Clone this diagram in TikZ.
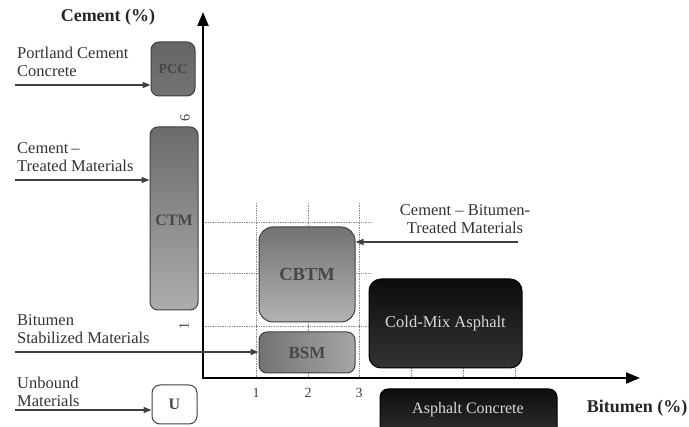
\documentclass[tikz,border=0pt]{standalone}
\usepackage{fontspec}
\setmainfont{Liberation Serif}
\usetikzlibrary{arrows.meta}
\begin{document}
\begin{tikzpicture}[x=1pt,y=-1pt,
  lbl/.style={font=\fontsize{16.5}{18}\selectfont,text=black!80,align=left,anchor=south west,inner sep=0pt},
  box/.style={draw=black!75,line width=1pt,rounded corners=8pt,font=\fontsize{16}{17}\selectfont\bfseries,text=black!72,minimum width=0pt,inner sep=0pt},
  darkbox/.style={draw=black,line width=1pt,rounded corners=12pt,font=\fontsize{16.5}{17}\selectfont,text=white!85!black,inner sep=0pt,top color=black!95,bottom color=black!80},
  axis/.style={line width=2.2pt,-{Triangle[length=14pt,width=11pt]}},
  ptr/.style={line width=1.5pt,black!75,-{Triangle[length=8pt,width=6pt]}},
  grid/.style={densely dotted,black!45,line width=0.7pt},
  ax/.style={font=\fontsize{18}{19}\selectfont\bfseries,text=black!85},
  tick/.style={font=\fontsize{14}{15}\selectfont,text=black!75}
]
\useasboundingbox (0,0) rectangle (689,427);
% grid
\draw[grid] (256,203) -- (256,378);
\draw[grid] (308,203) -- (308,378);
\draw[grid] (359,203) -- (359,378);
\draw[grid] (203,222) -- (370,222);
\draw[grid] (203,273) -- (370,273);
\draw[grid] (203,326) -- (370,326);
\draw[grid] (411,368) -- (411,378);
\draw[grid] (463,368) -- (463,378);
\draw[grid] (515,368) -- (515,378);
% boxes
\node[box,minimum width=44pt,minimum height=54pt,top color=black!60,bottom color=black!55,font=\fontsize{14}{15}\selectfont\bfseries] (pcc) at (173,69) {PCC};
\node[box,minimum width=48pt,minimum height=183pt,top color=black!58,bottom color=black!32] (ctm) at (174,218.5) {};
\node[font=\fontsize{16}{17}\selectfont\bfseries,text=black!72] (ctmt) at (174,220) {CTM};
\node[box,minimum width=45pt,minimum height=39pt,fill=white] (u) at (174.5,404.5) {U};
\node[box,minimum width=96pt,minimum height=95pt,rounded corners=14pt,top color=black!55,bottom color=black!30,font=\fontsize{18.5}{19}\selectfont\bfseries] (cbtm) at (307,274.5) {CBTM};
\node[box,minimum width=96pt,minimum height=41pt,left color=black!55,right color=black!35,font=\fontsize{17}{18}\selectfont\bfseries] (bsm) at (307,352.5) {BSM};
\node[darkbox,minimum width=153pt,minimum height=89pt] (cma) at (445.5,323.5) {Cold-Mix Asphalt};
\node[darkbox,minimum width=177pt,minimum height=50pt,rounded corners=8pt] (ac) at (468.5,414) {};
\node[font=\fontsize{16}{17}\selectfont,text=white!85!black] (act) at (468,410) {Asphalt Concrete};
% axes
\coordinate (o) at (203,378);
\coordinate (ytip) at (203,12);
\coordinate (xtip) at (640,378);
\draw[axis,line cap=rect] (o) -- (ytip);
\draw[axis] (o) -- (xtip);
\node[ax] (ylab) at (108,17) {Cement (\%)};
\node[ax] (xlab) at (637,408) {Bitumen (\%)};
% tick labels
\node[tick] (t1) at (256,393) {1};
\node[tick] (t2) at (308,393) {2};
\node[tick] (t3) at (359,393) {3};
\node[tick,rotate=90] (t6) at (185,118) {6};
\node[tick,rotate=90] (t1y) at (184,326) {1};
% labels and pointers
\node[lbl] (lpcc) at (17,77) {Portland Cement\\Concrete};
\coordinate (spcc) at (15,85);
\draw[ptr] (spcc) -- (pcc.west |- spcc);
\node[lbl] (lctm) at (17,172) {Cement\,--\\Treated Materials};
\coordinate (sctm) at (15,180);
\draw[ptr] (sctm) -- (ctm.west |- sctm);
\node[lbl] (lbsm) at (17,344) {Bitumen\\Stabilized Materials};
\coordinate (sbsm) at (15,352);
\draw[ptr] (sbsm) -- (bsm.west |- sbsm);
\node[lbl] (lu) at (17,407) {Unbound\\Materials};
\coordinate (su) at (15,410);
\draw[ptr] (su) -- (u.west |- su);
\node[lbl,align=center,anchor=south] (lcb) at (465,234) {Cement -- Bitumen-\\Treated Materials};
\coordinate (scb) at (518,242);
\draw[ptr] (scb) -- (cbtm.east |- scb);
\end{tikzpicture}
\end{document}
